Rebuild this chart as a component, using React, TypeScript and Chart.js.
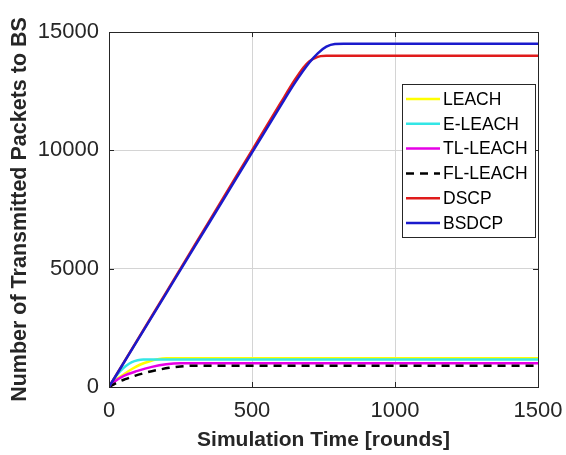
import React, { useEffect, useRef } from "react";
import { Chart, registerables } from "chart.js";

Chart.register(...registerables);

const seriesNames = ["LEACH", "E-LEACH", "TL-LEACH", "FL-LEACH", "DSCP", "BSDCP"];
const seriesColors = ["#ffff00", "#33e6e6", "#e600e6", "#000000", "#e01b1b", "#1a1acc"];

const leachRounds = [0, 20, 50, 80, 110, 140, 170, 200, 1500];
const leachValues = [0, 250, 520, 760, 950, 1080, 1170, 1210, 1210];

const eleachRounds = [0, 20, 40, 60, 80, 100, 120, 1500];
const eleachValues = [0, 380, 680, 900, 1050, 1130, 1160, 1160];

const tlleachRounds = [0, 20, 50, 100, 150, 200, 250, 1500];
const tlleachValues = [0, 230, 460, 680, 850, 960, 1000, 1000];

const flleachRounds = [0, 30, 60, 90, 130, 170, 210, 250, 300, 1500];
const flleachValues = [0, 200, 340, 470, 610, 720, 810, 870, 900, 900];

const dscpRounds = [0, 100, 200, 300, 400, 500, 600, 650, 680, 700, 720, 740, 760, 800, 1500];
const dscpValues = [0, 2000, 4000, 6000, 8000, 10000, 12000, 12980, 13500, 13760, 13900, 13980, 14000, 14000, 14000];

const bsdcpRounds = [0, 100, 200, 300, 400, 500, 600, 650, 700, 730, 760, 790, 820, 1500];
const bsdcpValues = [0, 1980, 3960, 5940, 7920, 9900, 11880, 12850, 13700, 14100, 14380, 14490, 14500, 14500];

const xTicks = [0, 500, 1000, 1500];
const yTicks = [0, 5000, 10000, 15000];

const xTitle = "Simulation Time [rounds]";
const yTitle = "Number of Transmitted Packets to BS";

const FONT = "'Liberation Sans', Arial, Helvetica, sans-serif";

function toPoints(xs: number[], ys: number[]) {
  return xs.map((x, i) => ({ x, y: ys[i] }));
}

const allRounds = [leachRounds, eleachRounds, tlleachRounds, flleachRounds, dscpRounds, bsdcpRounds];
const allValues = [leachValues, eleachValues, tlleachValues, flleachValues, dscpValues, bsdcpValues];

const boxPlugin = {
  id: "boxAndLegend",
  afterDraw(chart: any) {
    const ctx = chart.ctx;
    const a = chart.chartArea;
    const xs = chart.scales.x;
    const ys = chart.scales.y;
    ctx.save();
    ctx.strokeStyle = "#262626";
    ctx.lineWidth = 1;
    xTicks.forEach((t) => {
      const px = Math.round(xs.getPixelForValue(t)) + 0.5;
      ctx.beginPath();
      ctx.moveTo(px, a.bottom);
      ctx.lineTo(px, a.bottom - 5);
      ctx.moveTo(px, a.top);
      ctx.lineTo(px, a.top + 5);
      ctx.stroke();
    });
    yTicks.forEach((t) => {
      const py = Math.round(ys.getPixelForValue(t)) + 0.5;
      ctx.beginPath();
      ctx.moveTo(a.left, py);
      ctx.lineTo(a.left + 5, py);
      ctx.moveTo(a.right, py);
      ctx.lineTo(a.right - 5, py);
      ctx.stroke();
    });
    ctx.strokeRect(Math.round(a.left) + 0.5, Math.round(a.top) + 0.5, Math.round(a.right - a.left), Math.round(a.bottom - a.top));

    // legend
    const lx = a.right - 136;
    const ly = a.top + 52;
    const lw = 133;
    const lh = 153;
    ctx.fillStyle = "#ffffff";
    ctx.fillRect(lx, ly, lw, lh);
    ctx.strokeStyle = "#262626";
    ctx.strokeRect(lx + 0.5, ly + 0.5, lw, lh);
    ctx.font = `17.5px ${FONT}`;
    ctx.textBaseline = "middle";
    ctx.textAlign = "left";
    chart.data.datasets.forEach((ds: any, i: number) => {
      const cy = ly + 15 + i * 24.8;
      ctx.strokeStyle = ds.borderColor;
      ctx.lineWidth = 2.5;
      ctx.setLineDash(ds.borderDash || []);
      ctx.beginPath();
      ctx.moveTo(lx + 4, cy);
      ctx.lineTo(lx + 38, cy);
      ctx.stroke();
      ctx.setLineDash([]);
      ctx.fillStyle = "#000000";
      ctx.fillText(ds.label, lx + 41, cy + 1);
    });
    ctx.restore();
  },
};

export default function App() {
  const ref = useRef<HTMLCanvasElement | null>(null);
  useEffect(() => {
    if (!ref.current) return;
    const datasets = seriesNames.map((name, i) => ({
      label: name,
      data: toPoints(allRounds[i], allValues[i]),
      borderColor: seriesColors[i],
      backgroundColor: seriesColors[i],
      borderWidth: 2.5,
      borderDash: name === "FL-LEACH" ? [8, 6] : [],
      pointRadius: 0,
      fill: false,
      cubicInterpolationMode: "monotone" as const,
      order: seriesNames.length - i,
    }));
    const chart = new Chart(ref.current, {
      type: "line",
      data: { datasets },
      options: {
        animation: false,
        responsive: false,
        layout: { padding: { left: 0, top: 32, right: 28, bottom: 0 } },
        plugins: { legend: { display: false }, tooltip: { enabled: false } },
        scales: {
          x: {
            type: "linear",
            min: 0,
            max: 1500,
            afterBuildTicks: (s: any) => {
              s.ticks = xTicks.map((v) => ({ value: v }));
            },
            afterFit: (s: any) => {
              s.height = 68;
              s.paddingLeft = 0;
              s.paddingRight = 0;
            },
            grid: { color: "#d4d4d4", drawTicks: false, lineWidth: 1 },
            border: { display: false },
            ticks: {
              color: "#262626",
              font: { family: FONT, size: 22 },
              padding: 11,
              maxRotation: 0,
              callback: (v: any) => String(v),
            },
            title: {
              display: true,
              text: xTitle,
              color: "#262626",
              font: { family: FONT, size: 21, weight: "bold" },
              padding: { top: 0, bottom: 2 },
            },
          },
          y: {
            type: "linear",
            min: 0,
            max: 15000,
            afterBuildTicks: (s: any) => {
              s.ticks = yTicks.map((v) => ({ value: v }));
            },
            afterFit: (s: any) => {
              s.width = 109;
              s.paddingTop = 0;
              s.paddingBottom = 0;
            },
            grid: { color: "#d4d4d4", drawTicks: false, lineWidth: 1 },
            border: { display: false },
            ticks: {
              color: "#262626",
              font: { family: FONT, size: 22 },
              padding: 10,
              callback: (v: any) => String(v),
            },
            title: {
              display: true,
              text: yTitle,
              color: "#262626",
              font: { family: FONT, size: 21.5, weight: "bold" },
              padding: { top: 7, bottom: 0 },
            },
          },
        },
      },
      plugins: [boxPlugin],
    });
    return () => chart.destroy();
  }, []);
  return (
    <div style={{ position: "fixed", left: 0, top: 0, width: 566, height: 455, background: "#fff" }}>
      <canvas ref={ref} width={566} height={455} style={{ width: 566, height: 455 }} />
    </div>
  );
}
